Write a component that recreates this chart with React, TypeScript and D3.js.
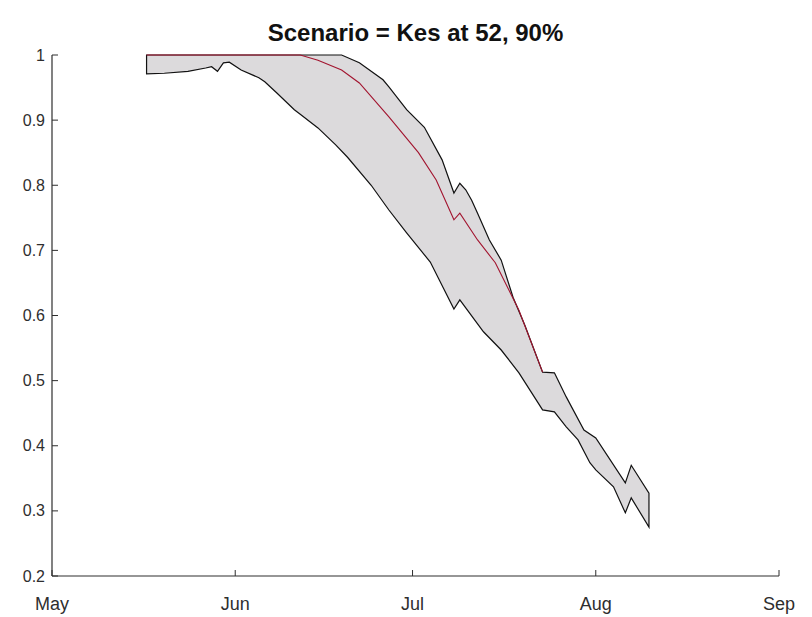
import React from "react";
import * as d3 from "d3";

const titleText = "Scenario = Kes at 52, 90%";

const monthTicks = ["2020-05-01", "2020-06-01", "2020-07-01", "2020-08-01", "2020-09-01"];
const yTicks = [0.2, 0.3, 0.4, 0.5, 0.6, 0.7, 0.8, 0.9, 1];

const upperDates = [
  "2020-05-17", "2020-06-19", "2020-06-22", "2020-06-26", "2020-06-27", "2020-06-30",
  "2020-07-03", "2020-07-06", "2020-07-08", "2020-07-09", "2020-07-10", "2020-07-11",
  "2020-07-12", "2020-07-14", "2020-07-16", "2020-07-18", "2020-07-20", "2020-07-23",
  "2020-07-25", "2020-07-27", "2020-07-30", "2020-08-01", "2020-08-06", "2020-08-07",
  "2020-08-10",
];
const upperValues = [
  1.0, 1.0, 0.988, 0.962, 0.951, 0.916,
  0.889, 0.839, 0.788, 0.803, 0.793, 0.777,
  0.757, 0.716, 0.685, 0.628, 0.585, 0.513,
  0.512, 0.475, 0.424, 0.412, 0.343, 0.37,
  0.327,
];

const medianDates = [
  "2020-05-17", "2020-06-12", "2020-06-15", "2020-06-19", "2020-06-22", "2020-06-27",
  "2020-07-02", "2020-07-05", "2020-07-08", "2020-07-09", "2020-07-12", "2020-07-15",
  "2020-07-19", "2020-07-23",
];
const medianValues = [
  1.0, 1.0, 0.992, 0.977, 0.957, 0.905,
  0.85, 0.808, 0.747, 0.757, 0.716, 0.681,
  0.608, 0.513,
];

const lowerDates = [
  "2020-05-17", "2020-05-20", "2020-05-24", "2020-05-27", "2020-05-28", "2020-05-29",
  "2020-05-30", "2020-05-31", "2020-06-02", "2020-06-05", "2020-06-06", "2020-06-08",
  "2020-06-11", "2020-06-12", "2020-06-15", "2020-06-18", "2020-06-20", "2020-06-24",
  "2020-06-27", "2020-06-30", "2020-07-04", "2020-07-08", "2020-07-09", "2020-07-13",
  "2020-07-16", "2020-07-19", "2020-07-23", "2020-07-25", "2020-07-27", "2020-07-29",
  "2020-07-31", "2020-08-01", "2020-08-04", "2020-08-06", "2020-08-07", "2020-08-10",
];
const lowerValues = [
  0.971, 0.972, 0.975, 0.98, 0.982, 0.975,
  0.988, 0.989, 0.977, 0.965, 0.959, 0.942,
  0.916, 0.909, 0.888, 0.862, 0.843, 0.8,
  0.762, 0.727, 0.682, 0.61, 0.624, 0.575,
  0.547, 0.512, 0.455, 0.452, 0.429, 0.409,
  0.374, 0.363, 0.337, 0.297, 0.32, 0.275,
];

const parse = d3.timeParse("%Y-%m-%d");
const fmt = d3.timeFormat("%b");

type Pt = { date: Date; value: number };
const zipPts = (ds: string[], vs: number[]): Pt[] =>
  ds.map((d, i) => ({ date: parse(d) as Date, value: vs[i] }));

export default function App() {
  const W = 812;
  const H = 617;
  const left = 52;
  const right = 779;
  const top = 55;
  const bottom = 576;

  const x = d3
    .scaleTime()
    .domain([parse(monthTicks[0]) as Date, parse(monthTicks[monthTicks.length - 1]) as Date])
    .range([left, right]);
  const y = d3.scaleLinear().domain([0.2, 1]).range([bottom, top]);

  const upper = zipPts(upperDates, upperValues);
  const lower = zipPts(lowerDates, lowerValues);
  const median = zipPts(medianDates, medianValues);

  const line = d3
    .line<Pt>()
    .x((d) => x(d.date))
    .y((d) => y(d.value));

  const polygon = line([...upper, ...lower.slice().reverse()]) + "Z";
  const medianPath = line(median) || "";

  const axisColor = "#2e2e2e";
  const font = "'Liberation Sans', Arial, Helvetica, sans-serif";

  return (
    <svg
      width={W}
      height={H}
      style={{ position: "absolute", left: 0, top: 0, background: "#fff" }}
    >
      <path d={polygon} fill="#dcdadc" stroke="#111" strokeWidth={1.2} strokeLinejoin="miter" />
      <path d={medianPath} fill="none" stroke="#a2142f" strokeWidth={1.1} />

      {/* axes */}
      <line x1={left} y1={top} x2={left} y2={bottom} stroke={axisColor} strokeWidth={1.2} />
      <line x1={left} y1={bottom} x2={right} y2={bottom} stroke={axisColor} strokeWidth={1.2} />

      {yTicks.map((t) => (
        <g key={"y" + t}>
          <line x1={left} x2={left + 6} y1={y(t)} y2={y(t)} stroke={axisColor} />
          <text
            x={left - 7}
            y={y(t)}
            dy="0.35em"
            textAnchor="end"
            fontFamily={font}
            fontSize={16}
            fill={axisColor}
          >
            {d3.format("~g")(t)}
          </text>
        </g>
      ))}

      {monthTicks.map((m) => {
        const d = parse(m) as Date;
        return (
          <g key={m}>
            <line x1={x(d)} x2={x(d)} y1={bottom} y2={bottom - 6} stroke={axisColor} />
            <text
              x={x(d)}
              y={bottom + 34}
              textAnchor="middle"
              fontFamily={font}
              fontSize={18}
              fill={axisColor}
            >
              {fmt(d)}
            </text>
          </g>
        );
      })}

      <text
        x={(left + right) / 2}
        y={41}
        textAnchor="middle"
        fontFamily={font}
        fontSize={24}
        fontWeight="bold"
        fill="#111"
      >
        {titleText}
      </text>
    </svg>
  );
}
